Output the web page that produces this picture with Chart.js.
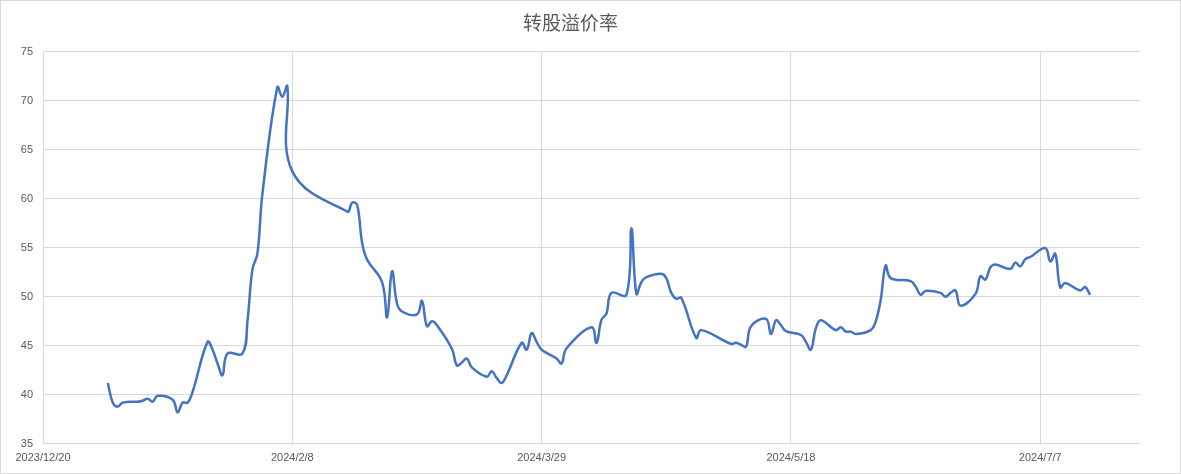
<!DOCTYPE html>
<html>
<head>
<meta charset="utf-8">
<script src="https://cdn.jsdelivr.net/npm/chart.js@4.4.1/dist/chart.umd.min.js"></script>
<style>
  html, body { margin: 0; padding: 0; background: #ffffff; }
  #wrap { position: relative; width: 1181px; height: 474px; box-sizing: border-box; border: 1px solid #d9d9d9; background: #fff; }
</style>
</head>
<body>
<div id="wrap"><canvas id="c"></canvas></div>
<script>
const chartTitle = "转股溢价率";
const axisStart = "2023-12-20";
const axisEnd = "2024-07-27";
const xTickStepDays = 50;
const yTicks = [35, 40, 45, 50, 55, 60, 65, 70, 75];

const dates = [
  "2024-01-02","2024-01-03","2024-01-04","2024-01-05","2024-01-08","2024-01-09","2024-01-10","2024-01-11","2024-01-12",
  "2024-01-15","2024-01-16","2024-01-17","2024-01-18","2024-01-19","2024-01-22","2024-01-23","2024-01-24","2024-01-25",
  "2024-01-26","2024-01-29","2024-01-30","2024-01-31","2024-02-01","2024-02-02","2024-02-05","2024-02-06","2024-02-07",
  "2024-02-08","2024-02-19","2024-02-20","2024-02-21","2024-02-22","2024-02-23","2024-02-26","2024-02-27","2024-02-28",
  "2024-02-29","2024-03-01","2024-03-04","2024-03-05","2024-03-06","2024-03-07","2024-03-08","2024-03-11","2024-03-12",
  "2024-03-13","2024-03-14","2024-03-15","2024-03-18","2024-03-19","2024-03-20","2024-03-21","2024-03-22","2024-03-25",
  "2024-03-26","2024-03-27","2024-03-28","2024-03-29","2024-04-01","2024-04-02","2024-04-03","2024-04-08","2024-04-09",
  "2024-04-10","2024-04-11","2024-04-12","2024-04-15","2024-04-16","2024-04-17","2024-04-18","2024-04-19","2024-04-22",
  "2024-04-23","2024-04-24","2024-04-25","2024-04-26","2024-04-29","2024-04-30","2024-05-06","2024-05-07","2024-05-08",
  "2024-05-09","2024-05-10","2024-05-13","2024-05-14","2024-05-15","2024-05-16","2024-05-17","2024-05-20","2024-05-21",
  "2024-05-22","2024-05-23","2024-05-24","2024-05-27","2024-05-28","2024-05-29","2024-05-30","2024-05-31","2024-06-03",
  "2024-06-04","2024-06-05","2024-06-06","2024-06-07","2024-06-11","2024-06-12","2024-06-13","2024-06-14","2024-06-17",
  "2024-06-18","2024-06-19","2024-06-20","2024-06-21","2024-06-24","2024-06-25","2024-06-26","2024-06-27","2024-06-28",
  "2024-07-01","2024-07-02","2024-07-03","2024-07-04","2024-07-05","2024-07-08","2024-07-09","2024-07-10","2024-07-11",
  "2024-07-12","2024-07-15","2024-07-16","2024-07-17"
];

const premiumRate = [
  41.2, 39.2, 38.8, 39.2, 39.3, 39.4, 39.6, 39.3, 39.9,
  39.5, 38.2, 39.2, 39.2, 40.3, 45.4, 44.6, 43.2, 42.0,
  44.2, 44.2, 47.5, 52.8, 54.4, 60.5, 71.4, 70.4, 71.5,
  62.8, 58.7, 59.6, 59.4, 55.5, 53.8, 51.5, 47.9, 52.6,
  49.3, 48.5, 48.2, 49.6, 47.0, 47.5, 47.1, 44.7, 43.0,
  43.3, 43.7, 42.8, 41.85, 42.4, 41.7, 41.2, 42.0, 45.3,
  44.6, 46.3, 45.4, 44.6, 43.7, 43.2, 44.75, 46.9, 45.3,
  47.65, 48.3, 50.4, 50.2, 57.0, 50.3, 51.5, 52.0, 52.35,
  51.9, 50.4, 49.8, 49.9, 45.8, 46.6, 45.2, 45.3, 45.1,
  44.9, 47.0, 47.75, 46.2, 47.6, 47.1, 46.5, 46.1, 45.4,
  44.6, 46.8, 47.6, 46.6, 46.9, 46.45, 46.45, 46.2, 46.6,
  47.5, 49.7, 53.2, 51.9, 51.6, 51.05, 50.2, 50.6, 50.4,
  50.0, 50.4, 50.65, 49.1, 50.3, 52.1, 51.75, 53.0, 53.3,
  52.85, 53.5, 53.1, 53.85, 54.06, 54.98, 53.6, 54.4, 50.96,
  51.4, 50.65, 51.0, 50.2
];

function toUTC(s) { const p = s.split("-").map(Number); return Date.UTC(p[0], p[1] - 1, p[2]); }
const DAY = 86400000;
const base = toUTC(axisStart);
const dayOf = s => Math.round((toUTC(s) - base) / DAY);
const fmtDay = d => { const t = new Date(base + d * DAY); return t.getUTCFullYear() + "/" + (t.getUTCMonth() + 1) + "/" + t.getUTCDate(); };

const points = dates.map((d, i) => ({ x: dayOf(d), y: premiumRate[i] }));
const xMax = dayOf(axisEnd);

const labelFont = { family: "'Liberation Sans', Arial, sans-serif", size: 11 };
const textColor = "#595959";
const gridColor = "#d9d9d9";

new Chart(document.getElementById("c"), {
  type: "line",
  data: {
    datasets: [{
      label: chartTitle,
      data: points,
      borderColor: "#4472C4",
      borderWidth: 2.5,
      pointRadius: 0,
      pointHoverRadius: 0,
      tension: 0.4,
      fill: false
    }]
  },
  options: {
    responsive: true,
    maintainAspectRatio: false,
    animation: false,
    layout: { padding: { left: 0, right: 40, top: 0, bottom: 0 } },
    plugins: {
      legend: { display: false },
      tooltip: { enabled: false },
      title: {
        display: true,
        text: chartTitle,
        color: textColor,
        font: { family: "'Noto Sans CJK SC', sans-serif", size: 19, weight: "normal" },
        padding: { top: 10, bottom: 18 }
      }
    },
    scales: {
      x: {
        type: "linear",
        min: 0,
        max: xMax,
        afterBuildTicks: s => { s.ticks = s.ticks.filter(t => t.value % xTickStepDays === 0); },
        ticks: {
          stepSize: xTickStepDays,
          color: textColor,
          font: labelFont,
          padding: 8,
          maxRotation: 0,
          autoSkip: false,
          callback: v => fmtDay(v)
        },
        grid: { color: gridColor, lineWidth: 1, drawTicks: false },
        border: { color: gridColor, width: 1 }
      },
      y: {
        min: yTicks[0],
        max: yTicks[yTicks.length - 1],
        afterBuildTicks: s => { s.ticks = yTicks.map(v => ({ value: v })); },
        afterFit: s => { s.width = 42; },
        ticks: {
          stepSize: 5,
          color: textColor,
          font: labelFont,
          padding: 10
        },
        grid: { color: gridColor, lineWidth: 1, drawTicks: false },
        border: { display: false }
      }
    }
  }
});
</script>
</body>
</html>
